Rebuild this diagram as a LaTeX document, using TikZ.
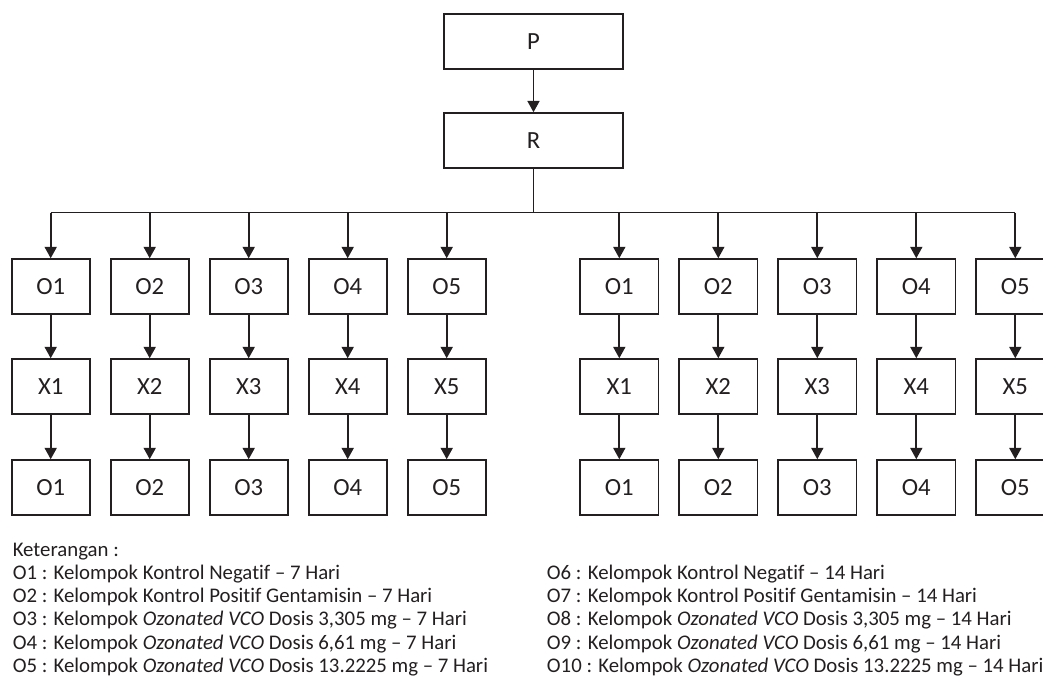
\documentclass[tikz,border=0pt]{standalone}
\usepackage{fontspec}
\setmainfont{Carlito}[Ligatures=NoCommon]
\usepackage{tikz}
\usetikzlibrary{arrows.meta}
\definecolor{ink}{RGB}{35,31,32}
\newcommand{\drawarrow}{\draw[line width=1.3pt,-{Triangle[length=8.5pt,width=9pt]}]}
\newcommand{\drawline}{\draw[line width=1.3pt]}
\tikzset{
  bigbox/.style={draw=ink,line width=1.4pt,minimum width=134pt,minimum height=41pt,
    font=\fontsize{18.5}{22}\selectfont,text=ink},
  smallbox/.style={bigbox,minimum width=58.7pt},
  legend/.style={anchor=base west,inner sep=0pt,font=\fontsize{15.6}{18}\selectfont,text=ink}
}
\newcommand{\legendline}[4]{\node[legend] (#1) at (#2,#3) {#4};}

\begin{document}
\begin{tikzpicture}[x=0.75pt,y=-0.75pt,color=ink]
\clip (0,0) rectangle (1043,686);
\node[bigbox] (P) at (533.5,41.5) {P};
\node[bigbox] (R) at (533.5,140.5) {R};
\drawarrow (P) -- (R);
\coordinate (bus) at (533.5,212.5);
% two groups of five columns
\foreach \i in {1,...,5}{
  \node[smallbox] (lo\i) at ({50.7+99*(\i-1)},286.5) {O\i};
  \node[smallbox] (lx\i) at ({50.7+99*(\i-1)},386.5) {X\i};
  \node[smallbox] (lp\i) at ({50.7+99*(\i-1)},487.5) {O\i};
  \node[smallbox] (ro\i) at ({619.3+99*(\i-1)},286.5) {O\i};
  \node[smallbox] (rx\i) at ({619.3+99*(\i-1)},386.5) {X\i};
  \node[smallbox] (rp\i) at ({619.3+99*(\i-1)},487.5) {O\i};
}
\drawline (R) -- (bus);
\drawline (lo1.north |- bus) -- (ro5.north |- bus);
\foreach \i in {1,...,5}{
  \drawarrow (lo\i.north |- bus) -- (lo\i);
  \drawarrow (lo\i) -- (lx\i);
  \drawarrow (lx\i) -- (lp\i);
  \drawarrow (ro\i.north |- bus) -- (ro\i);
  \drawarrow (ro\i) -- (rx\i);
  \drawarrow (rx\i) -- (rp\i);
}
% keterangan
\legendline{ket}{12.5}{556}{Keterangan :}
\legendline{k1}{12.5}{579.5}{O1 : Kelompok Kontrol Negatif – 7 Hari}
\legendline{k2}{12.5}{602.7}{O2 : Kelompok Kontrol Positif Gentamisin – 7 Hari}
\legendline{k3}{12.5}{625.9}{O3 : Kelompok \textit{Ozonated VCO} Dosis 3,305 mg – 7 Hari}
\legendline{k4}{12.5}{649.1}{O4 : Kelompok \textit{Ozonated VCO} Dosis 6,61 mg – 7 Hari}
\legendline{k5}{12.5}{672.3}{O5 : Kelompok \textit{Ozonated VCO} Dosis 13.2225 mg – 7 Hari}
\legendline{k6}{546.7}{579.5}{O6 : Kelompok Kontrol Negatif – 14 Hari}
\legendline{k7}{546.7}{602.7}{O7 : Kelompok Kontrol Positif Gentamisin – 14 Hari}
\legendline{k8}{546.7}{625.9}{O8 : Kelompok \textit{Ozonated VCO} Dosis 3,305 mg – 14 Hari}
\legendline{k9}{546.7}{649.1}{O9 : Kelompok \textit{Ozonated VCO} Dosis 6,61 mg – 14 Hari}
\legendline{k10}{546.7}{672.3}{O10 : Kelompok \textit{Ozonated VCO} Dosis 13.2225 mg – 14 Hari}
\end{tikzpicture}
\end{document}
